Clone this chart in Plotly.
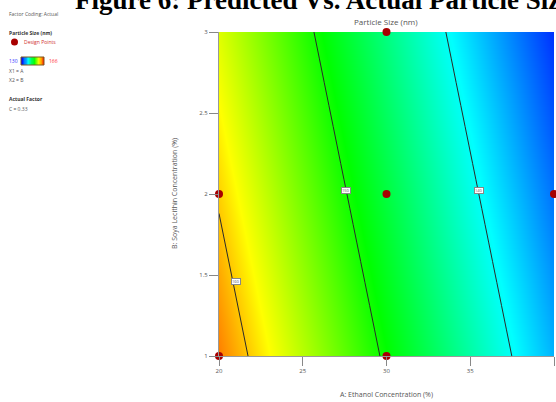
import plotly.graph_objects as go

# ---- data ----
ethanol = [20, 30, 40]            # A: Ethanol Concentration (%)
lecithin = [1, 2, 3]              # B: Soya Lecithin Concentration (%)
particle_size = [                 # predicted particle size (nm), rows = lecithin
    [162.2, 149.5, 136.8],
    [159.7, 147.0, 134.3],
    [157.2, 144.5, 131.8],
]
contour_levels = [140, 150, 160]
label_text = ["160", "150", "140"]
label_A = [21.0, 27.6, 35.5]
label_B = [1.46, 2.02, 2.02]
design_A = [20, 20, 30, 30, 30, 40]
design_B = [1, 2, 1, 2, 3, 2]
size_min, size_max = 130, 166
x_ticks = [20, 25, 30, 35, 40]
y_ticks = [1, 1.5, 2, 2.5, 3]

W, H = 556, 402
def px(x):
    return x / W
def py(y):
    return 1 - y / H

rainbow = [[0.0, "rgb(0,0,255)"], [0.27, "rgb(0,255,255)"], [0.54, "rgb(0,255,0)"],
           [0.787, "rgb(255,255,0)"], [1.0, "rgb(255,0,0)"]]

fig = go.Figure()
fig.add_trace(go.Heatmap(x=ethanol, y=lecithin, z=particle_size, zsmooth="best",
                         colorscale=rainbow, zmin=size_min, zmax=size_max,
                         showscale=False, hoverinfo="skip"))
fig.add_trace(go.Contour(x=ethanol, y=lecithin, z=particle_size,
                         contours=dict(start=contour_levels[0], end=contour_levels[-1],
                                       size=contour_levels[1] - contour_levels[0],
                                       coloring="lines"),
                         colorscale=[[0, "#2a2a2a"], [1, "#2a2a2a"]],
                         line=dict(width=1), showscale=False, hoverinfo="skip"))
fig.add_trace(go.Scatter(x=design_A, y=design_B, mode="markers",
                         marker=dict(color="#a80000", size=8),
                         cliponaxis=False, showlegend=False, hoverinfo="skip"))

# mini colour bar in the side panel
bar_vals = [size_min + i * (size_max - size_min) / 19 for i in range(20)]
fig.add_trace(go.Heatmap(z=[bar_vals], colorscale=rainbow, zmin=size_min, zmax=size_max,
                         zsmooth="best", showscale=False, xaxis="x2", yaxis="y2",
                         hoverinfo="skip"))

grey = "#555555"
tickfont = dict(family="Open Sans", size=6, color=grey)
fig.update_layout(
    width=W, height=H, margin=dict(l=0, r=0, t=0, b=0, autoexpand=False),
    paper_bgcolor="white", plot_bgcolor="white", showlegend=False,
    xaxis=dict(domain=[px(219), px(554)], range=[20, 40], tickvals=x_ticks,
               ticks="outside", ticklen=9, tickcolor="#888", tickfont=tickfont,
               showgrid=False, zeroline=False, showline=True, linecolor="#999",
               linewidth=1, automargin=False),
    yaxis=dict(domain=[py(356), py(32)], range=[1, 3], tickvals=y_ticks,
               ticks="outside", ticklen=9, tickcolor="#888", tickfont=tickfont,
               showgrid=False, zeroline=False, showline=True, linecolor="#999",
               linewidth=1, automargin=False),
    xaxis2=dict(domain=[px(21), px(44)], visible=False, anchor="y2", automargin=False),
    yaxis2=dict(domain=[py(65), py(57)], visible=False, anchor="x2", automargin=False),
)

annots = [
    dict(text="<b>Figure 6: Predicted Vs. Actual Particle Size</b>", x=px(73), y=1.042,
         xanchor="left", yanchor="top",
         font=dict(family="Liberation Serif", size=27, color="black")),
    dict(text="Particle Size (nm)", x=px(386), y=py(22), xanchor="center", yanchor="middle",
         font=dict(family="Open Sans", size=8, color=grey)),
    dict(text="A: Ethanol Concentration (%)", x=px(386), y=py(394), xanchor="center",
         yanchor="middle", font=dict(family="Open Sans", size=7, color=grey)),
    dict(text="B: Soya Lecithin Concentration (%)", x=px(174), y=py(194), xanchor="center",
         yanchor="middle", textangle=-90, font=dict(family="Open Sans", size=7, color=grey)),
    dict(text="Factor Coding: Actual", x=px(7), y=py(14), xanchor="left", yanchor="middle",
         font=dict(family="Open Sans", size=5, color=grey)),
    dict(text="<b>Particle Size (nm)</b>", x=px(7), y=py(33), xanchor="left", yanchor="middle",
         font=dict(family="Open Sans", size=5, color="#333")),
    dict(text="Design Points", x=px(22), y=py(42), xanchor="left", yanchor="middle",
         font=dict(family="Open Sans", size=5, color="#d03030")),
    dict(text="130", x=px(7), y=py(61), xanchor="left", yanchor="middle",
         font=dict(family="Open Sans", size=5, color="#3030ff")),
    dict(text="166", x=px(47), y=py(61), xanchor="left", yanchor="middle",
         font=dict(family="Open Sans", size=5, color="#ff3030")),
    dict(text="X1 = A", x=px(7), y=py(71), xanchor="left", yanchor="middle",
         font=dict(family="Open Sans", size=5, color=grey)),
    dict(text="X2 = B", x=px(7), y=py(80), xanchor="left", yanchor="middle",
         font=dict(family="Open Sans", size=5, color=grey)),
    dict(text="<b>Actual Factor</b>", x=px(7), y=py(99), xanchor="left", yanchor="middle",
         font=dict(family="Open Sans", size=5, color="#333")),
    dict(text="C = 0.33", x=px(7), y=py(109), xanchor="left", yanchor="middle",
         font=dict(family="Open Sans", size=5, color=grey)),
]
for t, a, b in zip(label_text, label_A, label_B):
    annots.append(dict(text=t, x=a, y=b, xref="x", yref="y", showarrow=False,
                       font=dict(family="Open Sans", size=4, color="#555"),
                       bgcolor="white", bordercolor="#888", borderwidth=1, borderpad=0))
for a in annots:
    a.setdefault("xref", "paper")
    a.setdefault("yref", "paper")
    a["showarrow"] = False
fig.update_layout(annotations=annots)

fig.add_shape(type="circle", xref="paper", yref="paper",
              x0=px(11), x1=px(18), y0=py(45.5), y1=py(38.5),
              fillcolor="#a80000", line=dict(width=0))
fig.add_shape(type="rect", xref="paper", yref="paper",
              x0=px(21), x1=px(44), y0=py(65), y1=py(57),
              line=dict(color="#7a5a20", width=1))

fig.write_html("out.html", config={"displayModeBar": False},
               post_script="document.body.style.margin='0';"
                           "document.body.style.overflow='hidden';")
